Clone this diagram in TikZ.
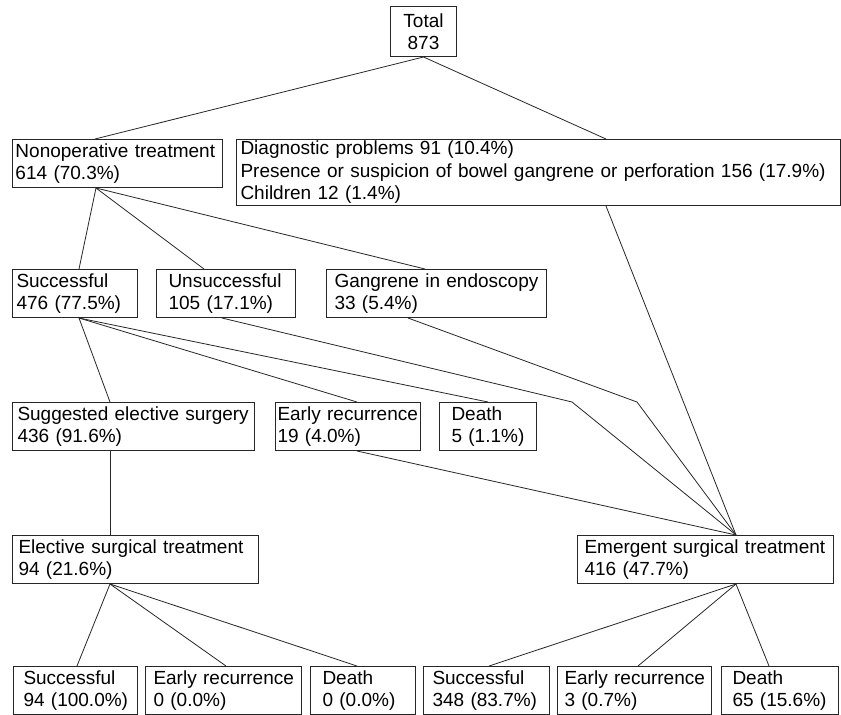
\documentclass[tikz,border=0pt]{standalone}
\usepackage{fontspec}
\setmainfont{Liberation Sans}
\hyphenpenalty=10000
\exhyphenpenalty=10000

\begin{document}
\begin{tikzpicture}[x=1pt, y=-1pt,
    stage/.style={draw=black!85, line width=1pt, anchor=north west, align=left,
        inner ysep=0pt, minimum height=48pt, font=\fontsize{19}{22.5}\selectfont},
    link/.style={black!85, line width=0.8pt}]

    \useasboundingbox (0,0) rectangle (841,715);

    %total
    \node[stage, align=center, text width=60pt, inner xsep=3pt, minimum height=50pt] (total) at (390,6) {Total\\873};

    %first split
    \node[stage, text width=204pt, inner xsep=3pt] (nonop) at (12,139) {Nonoperative~treatment\\614 (70.3\%)};
    \node[stage, text width=596pt, inner xsep=4pt, minimum height=66pt] (diag) at (236,139) {Diagnostic problems 91 (10.4\%)\\Presence or suspicion of bowel gangrene or perforation 156 (17.9\%)\\Children 12 (1.4\%)};

    %nonoperative outcome
    \node[stage, text width=117pt, inner xsep=4pt] (succN) at (12,269) {Successful\\476~(77.5\%)};
    \node[stage, text width=115pt, inner xsep=12pt] (unsucc) at (156,269) {Unsuccessful\\105~(17.1\%)};
    \node[stage, text width=204pt, inner xsep=8pt] (gangrene) at (326,269) {Gangrene~in~endoscopy\\33 (5.4\%)};

    %after success
    \node[stage, text width=232pt, inner xsep=5pt] (suggest) at (12,402) {Suggested~elective~surgery\\436 (91.6\%)};
    \node[stage, text width=141pt, inner xsep=2pt] (recurN) at (275,402) {\mbox{Early recurrence}\\19 (4.0\%)};
    \node[stage, text width=73pt, inner xsep=12pt] (deathN) at (439,402) {Death\\5~(1.1\%)};

    %surgery
    \node[stage, text width=234pt, inner xsep=6pt] (elective) at (12,535) {Elective~surgical~treatment\\94 (21.6\%)};
    \node[stage, text width=242pt, inner xsep=7pt] (emergent) at (577,535) {Emergent~surgical~treatment\\416 (47.7\%)};

    %results
    \node[stage, text width=104pt, inner xsep=10pt] (succE) at (13,666) {Successful\\94~(100.0\%)};
    \node[stage, text width=140pt, inner xsep=8pt] (recurE) at (145,666) {\mbox{Early recurrence}\\0 (0.0\%)};
    \node[stage, text width=81pt, inner xsep=12pt] (deathE) at (310,666) {Death\\0~(0.0\%)};
    \node[stage, text width=108pt, inner xsep=9pt] (succU) at (423,666) {Successful\\348~(83.7\%)};
    \node[stage, text width=140pt, inner xsep=7pt] (recurU) at (557,666) {\mbox{Early recurrence}\\3 (0.7\%)};
    \node[stage, text width=95pt, inner xsep=11pt] (deathU) at (721,666) {Death\\65~(15.6\%)};

    %bends
    \coordinate (bendA) at (572,402);
    \coordinate (bendB) at (637,402);

    %links
    \draw[link] (total.south) -- ([xshift=83pt]nonop.north west);
    \draw[link] (total.south) -- ([xshift=370pt]diag.north west);

    \draw[link] ([xshift=84pt]nonop.south west) -- ([xshift=67pt]succN.north west);
    \draw[link] ([xshift=84pt]nonop.south west) -- ([xshift=48pt]unsucc.north west);
    \draw[link] ([xshift=84pt]nonop.south west) -- ([xshift=99pt]gangrene.north west);

    \draw[link] ([xshift=370pt]diag.south west) -- ([xshift=159pt]emergent.north west);
    \draw[link] ([xshift=66pt]unsucc.south west) -- (bendA) -- ([xshift=159pt]emergent.north west);
    \draw[link] ([xshift=82pt]gangrene.south west) -- (bendB) -- ([xshift=159pt]emergent.north west);

    \draw[link] ([xshift=67pt]succN.south west) -- ([xshift=98pt]suggest.north west);
    \draw[link] ([xshift=67pt]succN.south west) -- ([xshift=82pt]recurN.north west);
    \draw[link] ([xshift=67pt]succN.south west) -- ([xshift=49pt]deathN.north west);

    \draw[link] ([xshift=82pt]recurN.south west) -- ([xshift=159pt]emergent.north west);
    \draw[link] ([xshift=98pt]suggest.south west) -- ([xshift=98pt]elective.north west);

    \draw[link] ([xshift=98pt]elective.south west) -- ([xshift=64pt]succE.north west);
    \draw[link] ([xshift=98pt]elective.south west) -- ([xshift=81pt]recurE.north west);
    \draw[link] ([xshift=98pt]elective.south west) -- ([xshift=47pt]deathE.north west);

    \draw[link] ([xshift=159pt]emergent.south west) -- ([xshift=66pt]succU.north west);
    \draw[link] ([xshift=159pt]emergent.south west) -- ([xshift=81pt]recurU.north west);
    \draw[link] ([xshift=159pt]emergent.south west) -- ([xshift=48pt]deathU.north west);

\end{tikzpicture}
\end{document}
